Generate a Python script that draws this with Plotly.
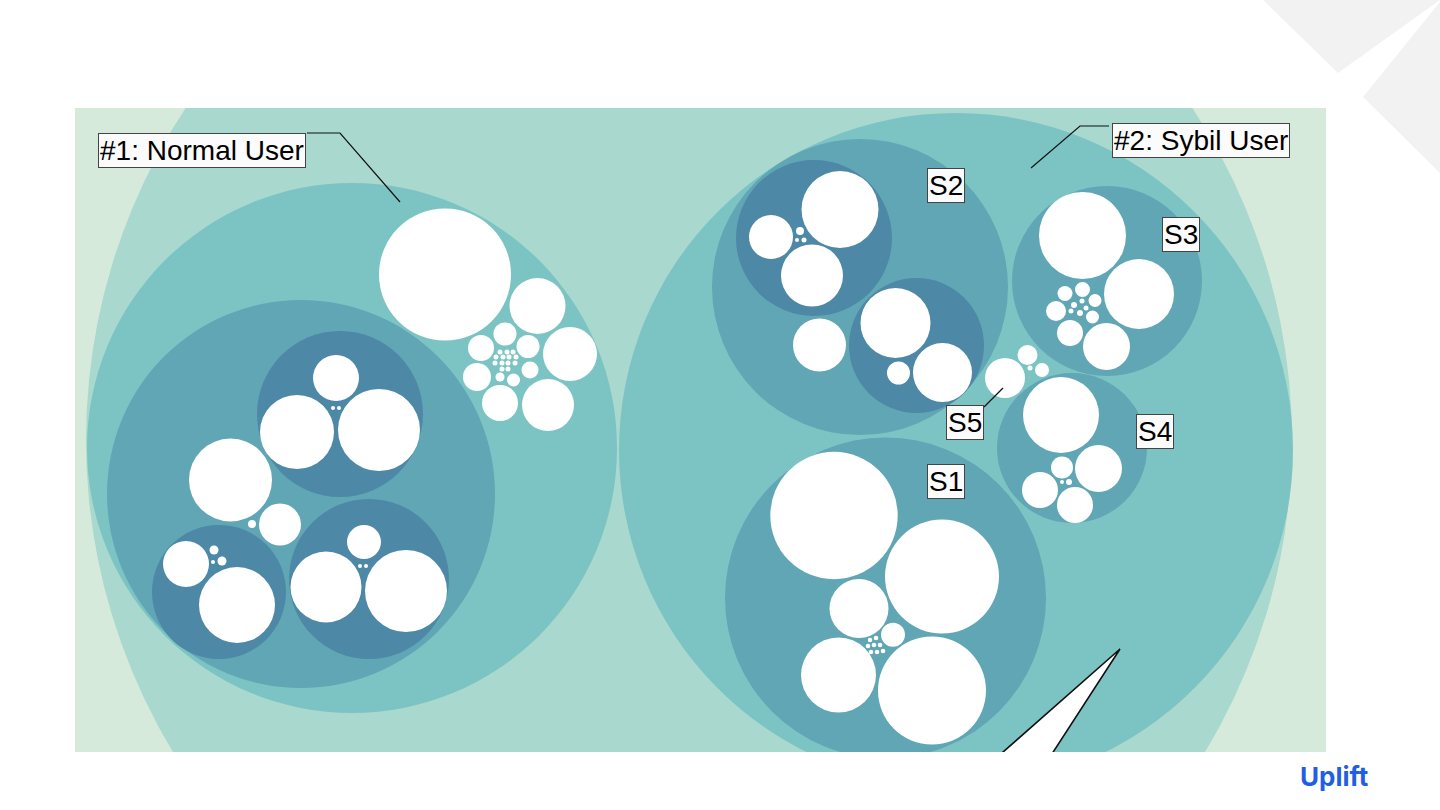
import plotly.graph_objects as go

# ---------------- data (pixel-space layout of the packed circles) ----------------
# outer container circle
outer_cx = [689]
outer_cy = [440]
outer_r = [603]

# level 1: users
user_names = ["#1: Normal User", "#2: Sybil User"]
user_cx = [352, 956]
user_cy = [448, 450]
user_r = [265, 337]

# level 2: groups (normal-user group, S2, S3, S4, S1)
group_names = ["N", "S2", "S3", "S4", "S1"]
group_cx = [301, 860, 1107, 1072, 885.5]
group_cy = [494, 287, 281, 448, 598]
group_r = [194, 148, 95, 75, 160.5]

# level 3: sub-groups
sub_cx = [340, 219, 369, 814, 916.5]
sub_cy = [414, 592, 579, 238, 345.5]
sub_r = [83, 67, 80, 78, 67.5]

# leaves (white circles)
leaf_cx = [
    # normal user – free cluster
    445, 537.5, 570, 548, 500, 481, 477, 505, 528, 530, 513.5, 500,
    500, 507, 513, 496, 503, 509, 516, 495, 502, 508, 515, 502, 508,
    # normal user – group
    230.5, 280, 252,
    # normal user – sub 1
    336, 297, 379, 333, 339,
    # normal user – sub 2
    186, 237, 214, 222, 213,
    # normal user – sub 3
    364, 326, 406, 360, 366,
    # S2 sub a
    840, 771, 812, 800, 797, 804,
    # S2 sub b
    895.5, 942.5, 898.5,
    # S2 free
    819.5,
    # S3
    1082.5, 1139, 1106.5, 1070, 1056, 1065, 1082.5, 1095, 1092.5,
    1074, 1082, 1080, 1071, 1086,
    # S4
    1061, 1098.5, 1075, 1040, 1062, 1062, 1069,
    # S5
    1005, 1027.5, 1042, 1030,
    # S1
    834, 942, 859, 893, 838.5, 932,
    870, 876, 868, 874, 880, 871, 877, 883,
]
leaf_cy = [
    274.5, 306, 354, 405, 403, 348, 377, 334, 346.5, 370, 380, 377,
    352, 352, 352, 357, 357, 357, 357, 363, 363, 363, 363, 369, 369,
    480, 524.5, 524,
    378, 432, 430, 408, 408,
    564, 605, 550, 561, 562,
    542, 587, 591, 566, 566,
    209.5, 237, 275.5, 231, 240, 240,
    323, 372.5, 373,
    345,
    235.5, 294, 346.5, 333, 311, 293.5, 289.5, 300.5, 317,
    305, 301, 313, 311, 308,
    415, 468.5, 505, 490, 467.5, 482, 482,
    378, 355, 370, 368,
    515.5, 576.5, 608.5, 634.7, 675, 690.5,
    640, 638, 646, 645, 645, 652, 652, 651,
]
leaf_r = [
    66, 28, 27, 26, 18, 13, 14, 11.5, 11.5, 8.5, 6.5, 4.5,
    2.5, 2.5, 2.5, 2.5, 2.5, 2.5, 2.5, 2.5, 2.5, 2.5, 2.5, 2.5, 2.5,
    41.5, 21, 4,
    23, 37, 41, 2, 2,
    23, 38, 4.5, 4.5, 2,
    17, 35.5, 41, 2, 2,
    38.5, 22, 31, 4, 2, 2.5,
    35, 29.5, 11.5,
    26.5,
    43.5, 35, 23.5, 13, 10, 7.5, 7.5, 6.5, 6.5,
    3, 2.5, 3, 2.5, 2.5,
    38, 23.5, 18, 18, 11, 2, 3,
    20, 10, 7, 2.5,
    63.7, 57, 29.5, 12, 37.5, 54,
    2.3, 2.3, 2.3, 2.3, 2.3, 2.3, 2.3, 2.3,
]

# labels
label_text = ["#1: Normal User", "#2: Sybil User", "S2", "S3", "S4", "S5", "S1"]
label_x = [202, 1200.5, 946, 1181, 1154.5, 964.5, 945.5]
label_y = [150.5, 140.5, 185, 234, 431, 422.5, 481]

# ---------------- styling ----------------
BG = "#d6eadc"
C_OUTER = "#a9d8ce"
C_USER = "#7cc4c3"
C_GROUP = "#60a6b5"
C_SUB = "#4d88a6"
C_LEAF = "#ffffff"

X0, X1, Y0, Y1 = 75, 1326, 108, 752
W, H = 1440, 810

shapes = []


def add_circles(cxs, cys, rs, color):
    for cx, cy, r in zip(cxs, cys, rs):
        shapes.append(dict(type="circle", xref="x", yref="y",
                           x0=cx - r, x1=cx + r, y0=cy - r, y1=cy + r,
                           fillcolor=color, line=dict(width=0), layer="above"))


add_circles(outer_cx, outer_cy, outer_r, C_OUTER)
add_circles(user_cx, user_cy, user_r, C_USER)
add_circles(group_cx, group_cy, group_r, C_GROUP)
add_circles(sub_cx, sub_cy, sub_r, C_SUB)
add_circles(leaf_cx, leaf_cy, leaf_r, C_LEAF)

# leader lines
for path in ["M 307 133 L 340 133 L 400 202",
             "M 1109 126 L 1080 126 L 1031 168",
             "M 984 407 L 1003 388"]:
    shapes.append(dict(type="path", xref="x", yref="y", path=path,
                       line=dict(color="#111111", width=1.2), layer="above"))

# callout wedge
shapes.append(dict(type="path", xref="x", yref="y",
                   path="M 1120 649 L 994 760 L 1048 760 Z",
                   fillcolor="#ffffff", line=dict(color="#111111", width=1.6),
                   layer="above"))


def px(x):
    return (x - X0) / (X1 - X0)


def py(y):
    return (Y1 - y) / (Y1 - Y0)


# decorative grey polygons (top-right corner)
for pts in [[(1263, 0), (1440, 0), (1338, 73)],
            [(1440, 2), (1363, 97), (1440, 173)]]:
    d = "M " + " L ".join(f"{px(a):.5f} {py(b):.5f}" for a, b in pts) + " Z"
    shapes.append(dict(type="path", xref="paper", yref="paper", path=d,
                       fillcolor="#f2f2f2", line=dict(width=0), layer="below"))

annotations = []
for t, x, y in zip(label_text, label_x, label_y):
    annotations.append(dict(x=x, y=y, xref="x", yref="y", text=t, showarrow=False,
                            xanchor="center", yanchor="middle",
                            font=dict(family="Liberation Sans, Arial", size=28,
                                      color="#000000"),
                            bgcolor="#fbfbfb", bordercolor="#444444", borderwidth=1,
                            borderpad=1))

annotations.append(dict(x=px(1334), y=py(776), xref="paper", yref="paper", text="<b>Uplift</b>",
                        showarrow=False, xanchor="center", yanchor="middle",
                        font=dict(family="Inter, Noto Sans", size=26, color="#1f5fe3")))

fig = go.Figure(go.Scatter(x=[], y=[], hoverinfo="skip", showlegend=False))
fig.update_layout(
    width=W, height=H,
    margin=dict(l=X0, r=W - X1, t=Y0, b=H - Y1, pad=0),
    paper_bgcolor="#ffffff", plot_bgcolor=BG,
    xaxis=dict(range=[X0, X1], visible=False, fixedrange=True),
    yaxis=dict(range=[Y1, Y0], visible=False, fixedrange=True),
    shapes=shapes, annotations=annotations, showlegend=False,
)
fig.write_html("out.html", config={"displayModeBar": False},
               post_script="document.body.style.margin='0';document.body.style.padding='0';")
